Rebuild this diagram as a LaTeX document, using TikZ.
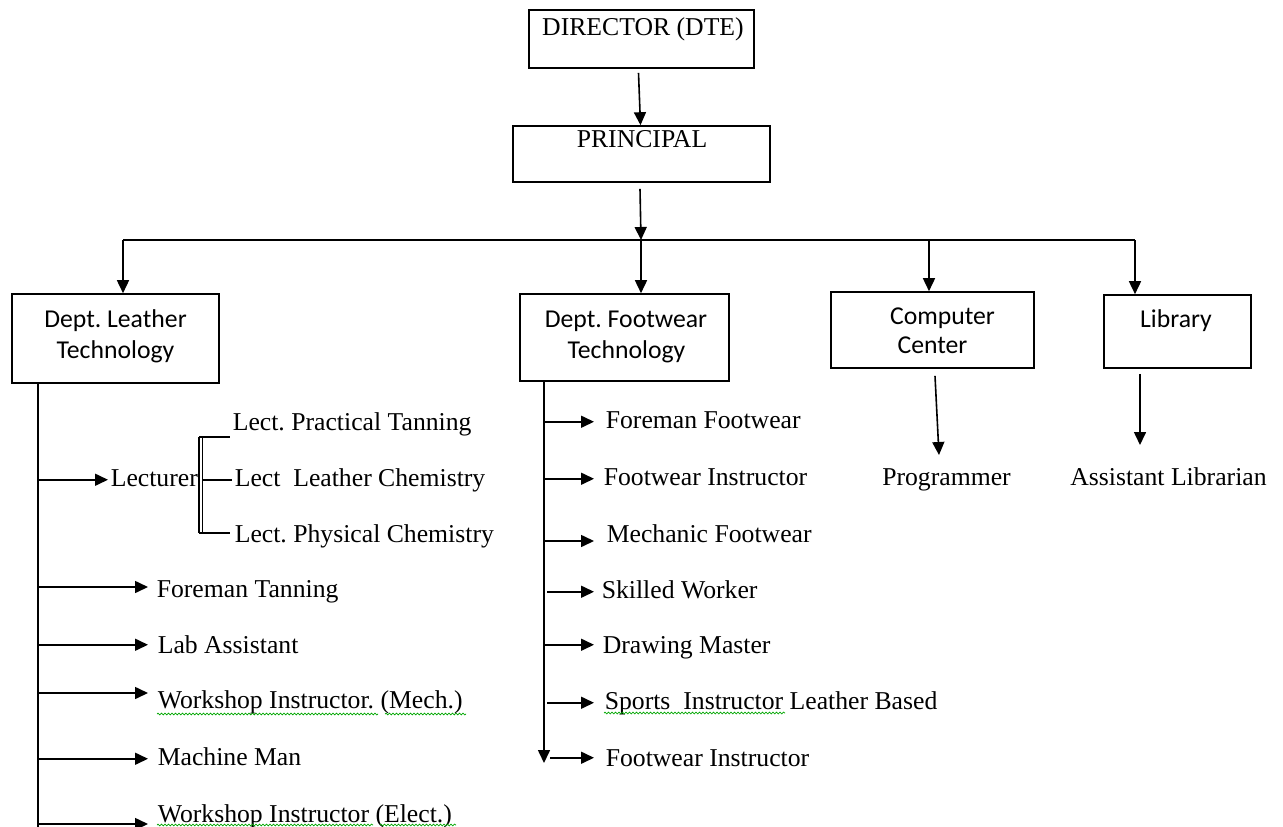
\documentclass[tikz,border=0pt]{standalone}
\usepackage{fontspec}
\setmainfont{Liberation Serif}
\newfontfamily\calibrifont{Carlito}
\usetikzlibrary{arrows.meta,decorations.pathmorphing}
\frenchspacing
\begin{document}
\begin{tikzpicture}[x=1pt,y=-1pt,line width=1.6pt,
  box/.style={draw,line width=1.6pt,inner sep=0pt},
  arr/.style={-{Triangle[length=13pt,width=12pt]}},
  lbl/.style={font=\fontsize{25.7}{31}\selectfont,inner sep=0pt,text height=17.5pt,text depth=5pt,anchor=base west},
  ctr/.style={font=\fontsize{25.7}{31}\selectfont,inner sep=0pt,anchor=base},
  cal/.style={font=\calibrifont\fontsize{25.7}{31}\selectfont,inner sep=0pt,anchor=base},
  wavy/.style={draw=green!65!black,line width=0.7pt,decorate,decoration={snake,amplitude=0.9pt,segment length=3.5pt}}]
\useasboundingbox (0,0) rectangle (1283,827);

% top boxes
\node[box,minimum width=225pt,minimum height=58pt] (dir) at (641.5,39) {};
\node[ctr] (dirt) at (643,35) {DIRECTOR (DTE)};
\node[box,minimum width=257pt,minimum height=56pt] (prin) at (641.5,154) {};
\node[ctr] (print) at (642,147) {PRINCIPAL};

% second level boxes
\node[box,minimum width=207pt,minimum height=89pt] (dl) at (115.5,338.5) {};
\node[cal] (dlt1) at (115.5,327) {Dept. Leather};
\node[cal] (dlt2) at (115.5,358) {Technology};
\node[box,minimum width=209pt,minimum height=87pt] (df) at (624.5,337.5) {};
\node[cal] (dft1) at (626,327) {Dept. Footwear};
\node[cal] (dft2) at (626.5,358) {Technology};
\node[box,minimum width=203pt,minimum height=76pt] (cc) at (932.5,330) {};
\node[cal] (cct1) at (942.5,324) {Computer};
\node[cal] (cct2) at (932.5,353) {Center};
\node[box,minimum width=147pt,minimum height=73pt] (lib) at (1177.5,331.5) {};
\node[cal] (libt) at (1176,327) {Library};

\node[ctr] (prog) at (946.5,485) {Programmer};
\node[ctr] (alib) at (1168.5,485) {Assistant Librarian};

% connectors top
\draw[arr] ([xshift=-3pt,yshift=-4pt]dir.south) -- ([xshift=-1pt]prin.north);
\coordinate (bus) at (641,240);
\coordinate (busL) at (123,240);
\coordinate (busC) at (929,240);
\coordinate (busR) at (1135,240);
\draw[arr] ([xshift=-1.5pt,yshift=-6pt]prin.south) -- (bus);
\draw (busL) -- (busR);
\draw[arr] (busL) -- (busL |- dl.north);
\draw[arr] (bus) -- (bus |- df.north);
\draw[arr] (busC) -- (busC |- cc.north);
\draw[arr] (busR) -- (busR |- lib.north);
\draw[arr] ([xshift=2.5pt,yshift=-7pt]cc.south) -- ([xshift=-7.5pt,yshift=30pt]prog.base);
\draw[arr] ([xshift=-37.5pt,yshift=-5pt]lib.south) -- ([xshift=-28.5pt,yshift=40pt]alib.base);

% leather department
\node[lbl] (lect) at (110,486) {Lecturer};
\node[lbl] (lpt) at (232,430) {Lect. Practical Tanning};
\node[lbl] (llc) at (234,486) {Lect~ Leather Chemistry};
\node[lbl] (lpc) at (234,542) {Lect. Physical Chemistry};
\node[lbl] (ftan) at (156,597) {Foreman Tanning};
\node[lbl] (labA) at (157,653) {Lab Assistant};
\node[lbl] (wim) at (157,708) {Workshop Instructor. (Mech.)};
\node[lbl] (mman) at (157,765) {Machine Man};
\node[lbl] (wie) at (157,822) {Workshop Instructor (Elect.)};

\coordinate (tL) at (38,830);
\draw (dl.south -| tL) -- (tL);
\draw[arr] (lect.west -| tL) -- ([xshift=-2pt]lect.west);
\draw[arr] ([yshift=3.75pt]ftan.west -| tL) -- ([xshift=-8pt,yshift=3.75pt]ftan.west);
\draw[arr] ([yshift=2pt]labA.west -| tL) -- ([xshift=-9pt,yshift=2pt]labA.west);
\draw[arr] ([yshift=8.75pt]wim.west -| tL) -- ([xshift=-9pt,yshift=8.75pt]wim.west);
\draw[arr] (mman.west -| tL) -- ([xshift=-9pt]mman.west);
\draw[arr] ([yshift=-8.25pt]wie.west -| tL) -- ([xshift=-9pt,yshift=-8.25pt]wie.west);

% lecturer bracket
\coordinate (brT) at (199,437);
\coordinate (brB) at (199,533);
\draw[line width=1.3pt] (brT) -- (brB);
\draw[line width=1.3pt] ([xshift=3.5pt]brT) -- ([xshift=3.5pt]brB);
\draw (brT) -- ([xshift=-2pt]brT -| lpt.west);
\draw ([xshift=3.5pt]brB |- llc.west) -- ([xshift=-2pt]llc.west);
\draw (brB) -- ([xshift=-4pt]brB -| lpc.west);

% footwear department
\node[lbl] (ffw) at (605,428) {Foreman Footwear};
\node[lbl] (fi1) at (603,485) {Footwear Instructor};
\node[lbl] (mfw) at (606,542) {Mechanic Footwear};
\node[lbl] (skw) at (601,598) {Skilled Worker};
\node[lbl] (drm) at (602,653) {Drawing Master};
\node[lbl] (sil) at (604,709) {Sports~ Instructor Leather Based};
\node[lbl] (fi2) at (605,766) {Footwear Instructor};

\coordinate (tF) at (544,763);
\draw[arr] (df.south -| tF) -- (tF);
\draw[arr] (ffw.west -| tF) -- ([xshift=-11pt]ffw.west);
\draw[arr] (fi1.west -| tF) -- ([xshift=-9pt]fi1.west);
\draw[arr] ([yshift=-5.25pt]mfw.west -| tF) -- ([xshift=-12pt,yshift=-5.25pt]mfw.west);
\draw[arr] ([xshift=3pt]skw.west -| tF) -- ([xshift=-7pt]skw.west);
\draw[arr] ([yshift=2pt]drm.west -| tF) -- ([xshift=-8pt,yshift=2pt]drm.west);
\draw[arr] ([xshift=3pt]sil.west -| tF) -- ([xshift=-10pt]sil.west);
\draw[arr] ([xshift=6pt,yshift=2pt]fi2.west -| tF) -- ([xshift=-11pt,yshift=2pt]fi2.west);

% spell-check underlines
\draw[wavy] ([yshift=-6pt]wim.base west) -- ++(221,0);
\draw[wavy] ([xshift=228pt,yshift=-6pt]wim.base west) -- ++(81,0);
\draw[wavy] ([yshift=-3pt]wie.base west) -- ++(216,0);
\draw[wavy] ([xshift=223pt,yshift=-3pt]wie.base west) -- ++(76,0);
\draw[wavy] ([yshift=-4pt]sil.base west) -- ++(181,0);
\end{tikzpicture}
\end{document}
